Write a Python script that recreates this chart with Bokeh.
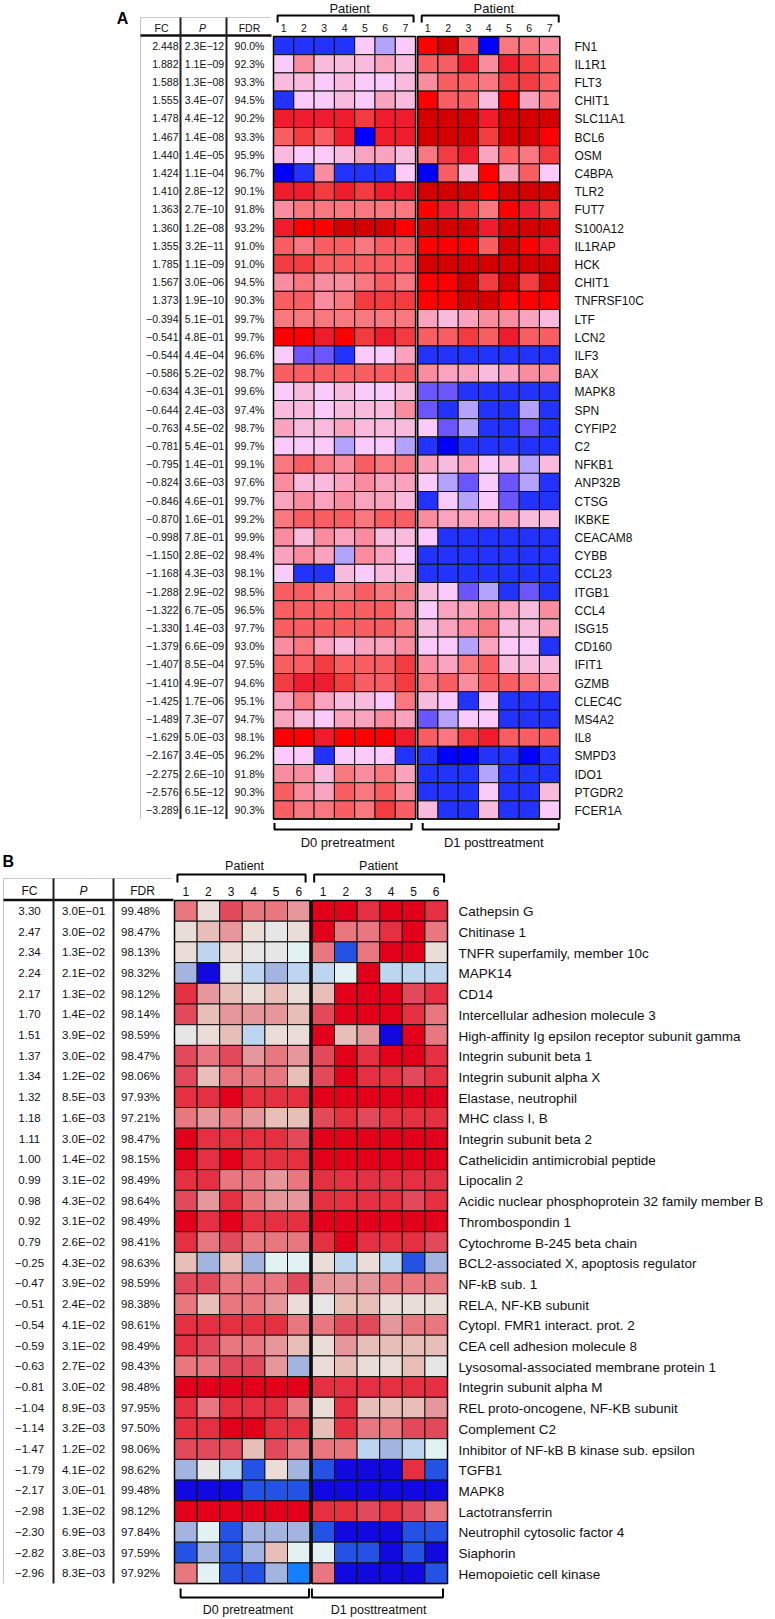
from bokeh.plotting import figure
from bokeh.models import ColumnDataSource, LinearColorMapper, Range1d
from bokeh.layouts import column
from bokeh.core.properties import value
from bokeh.transform import transform
from bokeh.embed import file_html
from bokeh.resources import INLINE

# ---------------- Panel A data ----------------
A_GENES = ["FN1", "IL1R1", "FLT3", "CHIT1", "SLC11A1", "BCL6", "OSM", "C4BPA", "TLR2", "FUT7",
           "S100A12", "IL1RAP", "HCK", "CHIT1", "TNFRSF10C", "LTF", "LCN2", "ILF3", "BAX", "MAPK8",
           "SPN", "CYFIP2", "C2", "NFKB1", "ANP32B", "CTSG", "IKBKE", "CEACAM8", "CYBB", "CCL23",
           "ITGB1", "CCL4", "ISG15", "CD160", "IFIT1", "GZMB", "CLEC4C", "MS4A2", "IL8", "SMPD3",
           "IDO1", "PTGDR2", "FCER1A"]
A_FC = [2.448, 1.882, 1.588, 1.555, 1.478, 1.467, 1.440, 1.424, 1.410, 1.363, 1.360, 1.355, 1.785,
        1.567, 1.373, -0.394, -0.541, -0.544, -0.586, -0.634, -0.644, -0.763, -0.781, -0.795,
        -0.824, -0.846, -0.870, -0.998, -1.150, -1.168, -1.288, -1.322, -1.330, -1.379, -1.407,
        -1.410, -1.425, -1.489, -1.629, -2.167, -2.275, -2.576, -3.289]
A_P = [2.3e-12, 1.1e-09, 1.3e-08, 3.4e-07, 4.4e-12, 1.4e-08, 1.4e-05, 1.1e-04, 2.8e-12, 2.7e-10,
       1.2e-08, 3.2e-11, 1.1e-09, 3.0e-06, 1.9e-10, 5.1e-01, 4.8e-01, 4.4e-04, 5.2e-02, 4.3e-01,
       2.4e-03, 4.5e-02, 5.4e-01, 1.4e-01, 3.6e-03, 4.6e-01, 1.6e-01, 7.8e-01, 2.8e-02, 4.3e-03,
       2.9e-02, 6.7e-05, 1.4e-03, 6.6e-09, 8.5e-04, 4.9e-07, 1.7e-06, 7.3e-07, 5.0e-03, 3.4e-05,
       2.6e-10, 6.5e-12, 6.1e-12]
A_FDR = [90.0, 92.3, 93.3, 94.5, 90.2, 93.3, 95.9, 96.7, 90.1, 91.8, 93.2, 91.0, 91.0, 94.5, 90.3,
         99.7, 99.7, 96.6, 98.7, 99.6, 97.4, 98.7, 99.7, 99.1, 97.6, 99.7, 99.2, 99.9, 98.4, 98.1,
         98.5, 96.5, 97.7, 93.0, 97.5, 94.6, 95.1, 94.7, 98.1, 96.2, 91.8, 90.3, 90.3]
A_PATIENTS = ["1", "2", "3", "4", "5", "6", "7"]
# colour level per cell (0 = deep blue ... 13 = dark red)
A_D0 = [
    [1, 1, 1, 1, 4, 3, 4], [4, 7, 5, 5, 5, 6, 5], [5, 5, 4, 5, 4, 4, 5], [1, 4, 4, 5, 4, 6, 5],
    [11, 11, 11, 11, 10, 11, 11], [9, 10, 9, 11, 0, 11, 11], [5, 4, 4, 5, 6, 6, 5],
    [0, 1, 7, 1, 1, 1, 4], [11, 11, 10, 11, 10, 11, 11], [7, 8, 8, 8, 8, 8, 8],
    [11, 12, 12, 13, 13, 13, 12], [9, 8, 9, 9, 8, 9, 9], [10, 10, 9, 9, 9, 9, 9],
    [7, 8, 7, 7, 8, 9, 8], [9, 9, 7, 8, 10, 10, 10], [8, 8, 8, 8, 8, 8, 8],
    [12, 12, 11, 12, 10, 11, 10], [4, 2, 2, 1, 4, 4, 6], [9, 9, 9, 9, 9, 9, 9],
    [4, 5, 4, 5, 4, 4, 5], [5, 5, 4, 5, 5, 5, 7], [6, 5, 5, 6, 5, 5, 5], [4, 4, 4, 3, 4, 4, 3],
    [8, 9, 8, 7, 9, 8, 8], [7, 5, 5, 6, 7, 6, 6], [6, 7, 6, 7, 6, 6, 5], [8, 9, 9, 9, 8, 9, 9],
    [7, 5, 7, 6, 7, 5, 5], [6, 7, 6, 3, 7, 6, 4], [4, 1, 1, 5, 4, 5, 5], [9, 9, 8, 8, 9, 8, 8],
    [9, 9, 9, 9, 9, 9, 7], [9, 9, 9, 9, 9, 9, 8], [7, 8, 6, 5, 6, 6, 7], [9, 9, 10, 9, 9, 9, 10],
    [10, 11, 11, 10, 9, 9, 10], [6, 8, 6, 5, 5, 4, 8], [6, 5, 4, 6, 6, 7, 6],
    [12, 12, 11, 12, 12, 12, 11], [4, 4, 1, 4, 4, 4, 1], [7, 7, 5, 8, 7, 8, 6],
    [9, 7, 6, 9, 8, 9, 7], [9, 8, 8, 9, 8, 10, 9]]
A_D1 = [
    [12, 13, 9, 0, 8, 8, 7], [9, 9, 11, 7, 11, 10, 9], [7, 9, 9, 8, 10, 10, 9],
    [12, 9, 9, 5, 12, 6, 8], [13, 13, 13, 11, 13, 13, 13], [13, 13, 13, 10, 13, 13, 12],
    [8, 10, 11, 6, 9, 8, 10], [0, 9, 5, 12, 6, 9, 4], [13, 13, 13, 12, 13, 13, 13],
    [12, 11, 10, 8, 12, 11, 10], [13, 13, 13, 11, 13, 13, 13], [12, 12, 12, 9, 13, 12, 11],
    [13, 13, 13, 13, 13, 13, 13], [12, 12, 13, 10, 13, 10, 13], [12, 12, 13, 13, 12, 12, 12],
    [6, 5, 6, 7, 7, 6, 5], [9, 9, 10, 9, 11, 9, 9], [1, 1, 1, 1, 1, 1, 1], [7, 6, 6, 5, 6, 7, 7],
    [2, 2, 1, 1, 1, 1, 1], [2, 1, 3, 1, 1, 3, 1], [4, 2, 3, 1, 1, 2, 1], [1, 0, 1, 1, 1, 1, 1],
    [6, 5, 6, 4, 5, 3, 5], [4, 3, 2, 4, 2, 3, 1], [1, 4, 3, 4, 2, 1, 1], [7, 6, 6, 6, 6, 5, 5],
    [4, 1, 1, 1, 1, 1, 1], [1, 1, 1, 1, 1, 1, 1], [1, 1, 1, 1, 1, 1, 1], [5, 4, 2, 3, 1, 2, 1],
    [4, 6, 6, 7, 6, 5, 7], [5, 6, 7, 8, 5, 5, 6], [4, 4, 3, 6, 4, 4, 1], [7, 6, 8, 9, 5, 5, 5],
    [8, 9, 7, 9, 9, 8, 7], [5, 4, 1, 4, 1, 1, 1], [2, 3, 4, 4, 1, 1, 1], [9, 8, 10, 11, 9, 9, 9],
    [1, 0, 0, 1, 1, 0, 1], [1, 1, 1, 3, 1, 1, 1], [1, 1, 1, 4, 1, 1, 5], [5, 1, 1, 5, 1, 1, 4]]
A_PALETTE = ["#0000FF", "#2233FF", "#6A55FF", "#B4A2FF", "#FACAFA", "#F9BBDD", "#F9A3BE",
             "#F98C9E", "#F97880", "#F95E62", "#F23C40", "#EE1C2C", "#FF0000", "#D40000"]

# ---------------- Panel B data ----------------
B_GENES = ["Cathepsin G", "Chitinase 1", "TNFR superfamily, member 10c", "MAPK14", "CD14",
           "Intercellular adhesion molecule 3", "High-affinity Ig epsilon receptor subunit gamma",
           "Integrin subunit beta 1", "Integrin subunit alpha X", "Elastase, neutrophil",
           "MHC class I,  B", "Integrin subunit beta 2", "Cathelicidin antimicrobial peptide",
           "Lipocalin  2", "Acidic nuclear phosphoprotein  32 family member B", "Thrombospondin 1",
           "Cytochrome B-245 beta chain", "BCL2-associated X, apoptosis regulator", "NF-kB sub. 1",
           "RELA, NF-KB subunit", "Cytopl. FMR1 interact. prot. 2", "CEA cell adhesion molecule 8",
           "Lysosomal-associated membrane protein 1", "Integrin subunit alpha M",
           "REL proto-oncogene, NF-KB subunit", "Complement C2",
           "Inhibitor of  NF-kB B kinase sub. epsilon", "TGFB1", "MAPK8", "Lactotransferrin",
           "Neutrophil cytosolic factor 4", "Siaphorin", "Hemopoietic cell kinase"]
B_FC = [3.30, 2.47, 2.34, 2.24, 2.17, 1.70, 1.51, 1.37, 1.34, 1.32, 1.18, 1.11, 1.00, 0.99, 0.98,
        0.92, 0.79, -0.25, -0.47, -0.51, -0.54, -0.59, -0.63, -0.81, -1.04, -1.14, -1.47, -1.79,
        -2.17, -2.98, -2.30, -2.82, -2.96]
B_P = [3.0e-01, 3.0e-02, 1.3e-02, 2.1e-02, 1.3e-02, 1.4e-02, 3.9e-02, 3.0e-02, 1.2e-02, 8.5e-03,
       1.6e-03, 3.0e-02, 1.4e-02, 3.1e-02, 4.3e-02, 3.1e-02, 2.6e-02, 4.3e-02, 3.9e-02, 2.4e-02,
       4.1e-02, 3.1e-02, 2.7e-02, 3.0e-02, 8.9e-03, 3.2e-03, 1.2e-02, 4.1e-02, 3.0e-01, 1.3e-02,
       6.9e-03, 3.8e-03, 8.3e-03]
B_FDR = [99.48, 98.47, 98.13, 98.32, 98.12, 98.14, 98.59, 98.47, 98.06, 97.93, 97.21, 98.47, 98.15,
         98.49, 98.64, 98.49, 98.41, 98.63, 98.59, 98.38, 98.61, 98.49, 98.43, 98.48, 97.95, 97.50,
         98.06, 98.62, 99.48, 98.12, 97.84, 97.59, 97.92]
B_PATIENTS = ["1", "2", "3", "4", "5", "6"]
B_D0 = [
    [9, 6, 10, 9, 9, 8], [6, 7, 8, 6, 5, 6], [6, 3, 6, 5, 5, 4], [2, 0, 5, 3, 2, 3],
    [11, 8, 7, 6, 7, 6], [10, 7, 8, 8, 8, 7], [5, 6, 7, 3, 6, 6], [10, 9, 10, 8, 9, 8],
    [10, 7, 9, 9, 9, 7], [11, 11, 12, 11, 11, 11], [9, 8, 9, 8, 7, 7], [12, 11, 11, 11, 11, 10],
    [12, 11, 12, 11, 11, 11], [11, 11, 9, 9, 8, 9], [10, 8, 11, 9, 8, 8], [12, 11, 12, 11, 11, 11],
    [11, 9, 10, 9, 9, 9], [7, 2, 7, 2, 4, 4], [10, 10, 9, 9, 9, 10], [9, 7, 9, 9, 8, 6],
    [11, 11, 11, 11, 11, 9], [11, 10, 9, 9, 8, 7], [9, 9, 10, 10, 8, 2], [12, 12, 12, 12, 12, 12],
    [11, 9, 11, 11, 11, 9], [11, 11, 12, 12, 11, 11], [10, 10, 10, 7, 10, 9], [2, 5, 3, 1, 6, 2],
    [0, 0, 0, 1, 1, 1], [12, 12, 12, 12, 12, 12], [2, 4, 1, 2, 2, 2], [1, 2, 1, 2, 7, 4],
    [9, 4, 1, 1, 2, 13]]
B_D1 = [
    [12, 12, 11, 12, 12, 11], [12, 9, 9, 11, 12, 9], [9, 1, 9, 12, 12, 6], [3, 4, 12, 3, 3, 3],
    [7, 12, 12, 12, 10, 11], [10, 12, 12, 12, 11, 9], [12, 7, 8, 0, 12, 9],
    [10, 12, 11, 12, 12, 11], [10, 12, 11, 11, 10, 11], [12, 12, 12, 12, 12, 12],
    [10, 11, 10, 11, 11, 11], [12, 12, 12, 12, 12, 12], [12, 12, 12, 12, 12, 12],
    [11, 11, 11, 11, 11, 11], [11, 11, 11, 11, 10, 11], [12, 12, 12, 12, 12, 12],
    [11, 12, 11, 11, 11, 10], [6, 3, 6, 3, 1, 2], [8, 8, 8, 9, 9, 9], [5, 7, 7, 6, 6, 6],
    [9, 10, 10, 8, 9, 9], [6, 8, 7, 7, 7, 7], [6, 7, 6, 6, 7, 5], [11, 11, 11, 11, 11, 11],
    [6, 11, 7, 7, 7, 8], [7, 11, 9, 9, 10, 10], [9, 9, 3, 2, 3, 4], [1, 0, 0, 0, 11, 1],
    [0, 0, 0, 0, 0, 0], [11, 11, 10, 11, 10, 9], [1, 0, 0, 0, 1, 1], [4, 1, 1, 0, 1, 0],
    [9, 0, 0, 0, 0, 1]]
B_PALETTE = ["#1208E0", "#2452E4", "#A3B4E0", "#BDD5EE", "#E2F2F2", "#E6E6E6", "#EADCD6",
             "#E8BEB8", "#E6979C", "#E87780", "#E24A5C", "#E43040", "#E2001A", "#1480FF"]

GROUPS = ["D0 pretreatment", "D1 posttreatment"]

MINUS = "\u2212"
SANS = value("Liberation Sans")


def base_fig(w, h, xr, yr):
    p = figure(width=w, height=h, x_range=Range1d(*xr), y_range=Range1d(*yr),
               output_backend="svg", toolbar_location=None, min_border=0,
               x_axis_location=None, y_axis_location=None)
    p.grid.visible = False
    p.outline_line_color = None
    p.background_fill_color = "white"
    p.border_fill_color = "white"
    return p


def heat(p, d0, d1, palette, gap, lw_outer):
    n = len(d0)
    k = len(d0[0])
    xs, ys, lv = [], [], []
    for r in range(n):
        for c in range(k):
            xs.append(c + 0.5); ys.append(r + 0.5); lv.append(d0[r][c])
            xs.append(k + gap + c + 0.5); ys.append(r + 0.5); lv.append(d1[r][c])
    mapper = LinearColorMapper(palette=palette, low=-0.5, high=len(palette) - 0.5)
    src = ColumnDataSource(dict(x=xs, y=ys, lv=lv))
    p.rect("x", "y", width=1, height=1, source=src, fill_color=transform("lv", mapper),
           line_color="#111111", line_width=1)
    p.rect(x=[k / 2, k + gap + k / 2], y=[n / 2, n / 2], width=k, height=n,
           fill_color=None, line_color="black", line_width=lw_outer)


def txt(p, x, y, t, font, size, align="center", style="normal", color="#111111", base="middle"):
    src = ColumnDataSource(dict(x=x, y=y, t=t))
    p.text("x", "y", text="t", source=src, text_font=font, text_font_size=value(size),
           text_align=align, text_baseline=base, text_font_style=style, text_color=color)


def brackets(p, spans, y_bar, y_tip):
    xs, ys = [], []
    for a, b in spans:
        xs.append([a, a, b, b]); ys.append([y_tip, y_bar, y_bar, y_tip])
    p.multi_line(xs, ys, line_color="black", line_width=2)


PAGE_W = 775
SPLIT = 851
PAGE_H = 1618

# ================= Panel A =================
nA = len(A_GENES)
kA = len(A_PATIENTS)
CWA, RHA, X0A, Y0A = 20.3, 18.2, 273.0, 36.0
GAPA = 0.1


def axp(px):
    return (px - X0A) / CWA


def ayp(py):
    return (py - Y0A) / RHA


pA = base_fig(PAGE_W, SPLIT, (axp(0), axp(PAGE_W)), (ayp(SPLIT), ayp(0)))
heat(pA, A_D0, A_D1, A_PALETTE, GAPA, 1.5)
rowsA = [r + 0.5 for r in range(nA)]

# table lines
pA.segment(x0=[axp(140), axp(140)], y0=[ayp(17), ayp(17)], x1=[axp(270), axp(140)],
           y1=[ayp(17), nA], line_color="#c8c8c8", line_width=1.2)
pA.segment(x0=[axp(140)], y0=[-0.06], x1=[axp(271)], y1=[-0.06], line_color="#111111", line_width=2.5)
pA.segment(x0=[axp(180), axp(226)], y0=[ayp(17), ayp(17)], x1=[axp(180), axp(226)],
           y1=[nA, nA], line_color="#222222", line_width=2)

# table header and values
hy = ayp(27)
txt(pA, [axp(161)], [hy], ["FC"], SANS, "10.5px")
txt(pA, [axp(202)], [hy], ["P"], SANS, "10.5px", style="italic")
txt(pA, [axp(249)], [hy], ["FDR"], SANS, "10.5px")
txt(pA, [axp(178)] * nA, rowsA, [f"{v:.3f}".replace("-", MINUS) for v in A_FC], SANS, "10.5px", align="right")
txt(pA, [axp(204)] * nA, rowsA, [f"{v:.1E}".replace("-", MINUS) for v in A_P], SANS, "10.5px")
txt(pA, [axp(249)] * nA, rowsA, [f"{v:.1f}%" for v in A_FDR], SANS, "10.5px")

# column numbers
colx = [c + 0.5 for c in range(kA)] + [kA + GAPA + c + 0.5 for c in range(kA)]
txt(pA, colx, [hy] * (2 * kA), A_PATIENTS + A_PATIENTS, SANS, "10.5px")
# top brackets + Patient
brackets(pA, [(0.2, kA - 0.1), (kA + GAPA + 0.2, 2 * kA + GAPA - 0.05)], ayp(15), ayp(22))
txt(pA, [3.75, kA + GAPA + 3.75], [ayp(7.5), ayp(7.5)], ["Patient", "Patient"], SANS, "13px")
# bottom brackets + groups
brackets(pA, [(0.05, kA - 0.2), (kA + GAPA + 0.25, 2 * kA + GAPA - 0.05)], ayp(829), ayp(822.5))
txt(pA, [3.65, kA + GAPA + 3.75], [ayp(842), ayp(842)], GROUPS, SANS, "13px")
# gene labels
txt(pA, [axp(574)] * nA, [r + 0.55 for r in range(nA)], A_GENES, SANS, "12px", align="left")
# panel letter
txt(pA, [axp(122)], [ayp(18)], ["A"], SANS, "16px", style="bold", color="black")

# ================= Panel B =================
nB = len(B_GENES)
kB = len(B_PATIENTS)
CWB, RHB, X0B, Y0B = 22.6, 20.7, 174.0, 900.0
GAPB = 0.08


def bxp(px):
    return (px - X0B) / CWB


def byp(py):
    return (py - Y0B) / RHB


pB = base_fig(PAGE_W, PAGE_H - SPLIT, (bxp(0), bxp(PAGE_W)), (byp(PAGE_H), byp(SPLIT)))
heat(pB, B_D0, B_D1, B_PALETTE, GAPB, 1.5)
rowsB = [r + 0.5 for r in range(nB)]

pB.segment(x0=[bxp(3), bxp(3)], y0=[byp(878), byp(878)], x1=[bxp(172), bxp(3)],
           y1=[byp(878), nB], line_color="#c8c8c8", line_width=1.2)
pB.segment(x0=[bxp(3)], y0=[-0.03], x1=[bxp(173)], y1=[-0.03], line_color="#111111", line_width=2.5)
pB.segment(x0=[bxp(53), bxp(113)], y0=[byp(878), byp(878)], x1=[bxp(53), bxp(113)],
           y1=[nB, nB], line_color="#222222", line_width=2)

hyB = byp(890)
txt(pB, [bxp(29)], [hyB], ["FC"], SANS, "12px")
txt(pB, [bxp(83)], [hyB], ["P"], SANS, "12px", style="italic")
txt(pB, [bxp(142)], [hyB], ["FDR"], SANS, "12px")
txt(pB, [bxp(29)] * nB, rowsB, [f"{v:.2f}".replace("-", MINUS) for v in B_FC], SANS, "11.5px")
txt(pB, [bxp(83)] * nB, rowsB, [f"{v:.1E}".replace("-", MINUS) for v in B_P], SANS, "11.5px")
txt(pB, [bxp(140)] * nB, rowsB, [f"{v:.2f}%" for v in B_FDR], SANS, "11.5px")

colxB = [c + 0.5 for c in range(kB)] + [kB + GAPB + c + 0.5 for c in range(kB)]
txt(pB, colxB, [byp(891)] * (2 * kB), B_PATIENTS + B_PATIENTS, SANS, "12px")
brackets(pB, [(0.13, kB - 0.2), (kB + GAPB + 0.1, 2 * kB + GAPB - 0.15)], byp(874), byp(882))
txt(pB, [3.1, kB + GAPB + 2.95], [byp(865), byp(865)], ["Patient", "Patient"], SANS, "12.5px")
brackets(pB, [(0.27, kB - 0.05), (kB + GAPB + 0.0, 2 * kB + GAPB - 0.2)], byp(1597), byp(1588))
txt(pB, [3.25, kB + GAPB + 2.95], [byp(1609), byp(1609)], GROUPS, SANS, "12.5px")
txt(pB, [bxp(458)] * nB, [r + 0.55 for r in range(nB)], B_GENES, SANS, "13.5px", align="left")
txt(pB, [bxp(2)], [byp(861)], ["B"], SANS, "16px", align="left", style="bold", color="black")

layout = column(pA, pB, spacing=0)
open("out.html", "w").write(file_html(layout, INLINE))
